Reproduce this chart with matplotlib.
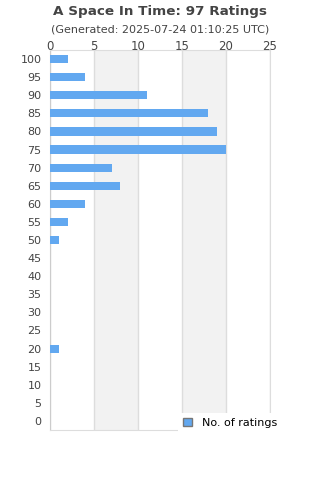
import matplotlib
matplotlib.use("Agg")
import matplotlib.pyplot as plt
from matplotlib.patches import Patch

scores = [100, 95, 90, 85, 80, 75, 70, 65, 60, 55, 50, 45, 40, 35, 30, 25, 20, 15, 10, 5, 0]
counts = [2, 4, 11, 18, 19, 20, 7, 8, 4, 2, 1, 0, 0, 0, 0, 0, 1, 0, 0, 0, 0]
xticks = [0, 5, 10, 15, 20, 25]
title = "A Space In Time: 97 Ratings"
subtitle = "(Generated: 2025-07-24 01:10:25 UTC)"

fig = plt.figure(figsize=(3.2, 4.8), dpi=100)
ax = fig.add_axes([50/320, 50/480, 220/320, 380/480])

n = len(scores)
pos = [n - 1 - i for i in range(n)]
bar_color = "#62a8f0"
ax.barh(pos, counts, height=0.45, color=bar_color, zorder=3)

ax.set_xlim(0, 25)
ax.set_ylim(-0.5, n - 0.5)
for i in range(len(xticks) - 1):
    if i % 2 == 1:
        ax.axvspan(xticks[i], xticks[i + 1], color="#f2f2f2", zorder=0, lw=0)
for x in xticks:
    ax.axvline(x, color="#dddddd", lw=1, zorder=1)

ax.set_xticks(xticks)
ax.set_yticks(pos)
ax.set_yticklabels([str(s) for s in scores])
ax.xaxis.tick_top()
ax.tick_params(axis="x", length=0, pad=-2.5, labelsize=8.5, labelcolor="#444444")
ax.tick_params(axis="y", length=0, pad=6, labelsize=8, labelcolor="#444444")
for side in ["top", "right", "bottom", "left"]:
    ax.spines[side].set_color("#dddddd")
ax.spines["left"].set_color("#cccccc")

fig.text(0.5, 1 - 11/480, title, ha="center", va="center", fontsize=9.7,
         fontweight="bold", color="#444444")
fig.text(0.5, 1 - 30/480, subtitle, ha="center", va="center", fontsize=8,
         color="#444444")

leg = fig.legend(handles=[Patch(facecolor=bar_color, edgecolor="#777777", label="No. of ratings")],
                 loc="lower left", bbox_to_anchor=(178/320, 47/480),
                 bbox_transform=fig.transFigure, frameon=True, fontsize=8,
                 handlelength=0.8, handleheight=0.8, borderpad=0.45, fancybox=False,
                 borderaxespad=0, handletextpad=0.9)
leg.get_frame().set_edgecolor("white")
leg.get_frame().set_facecolor("white")
leg.get_frame().set_alpha(1)
leg.get_frame().set_linewidth(0)

fig.savefig("out.png", dpi=100)
